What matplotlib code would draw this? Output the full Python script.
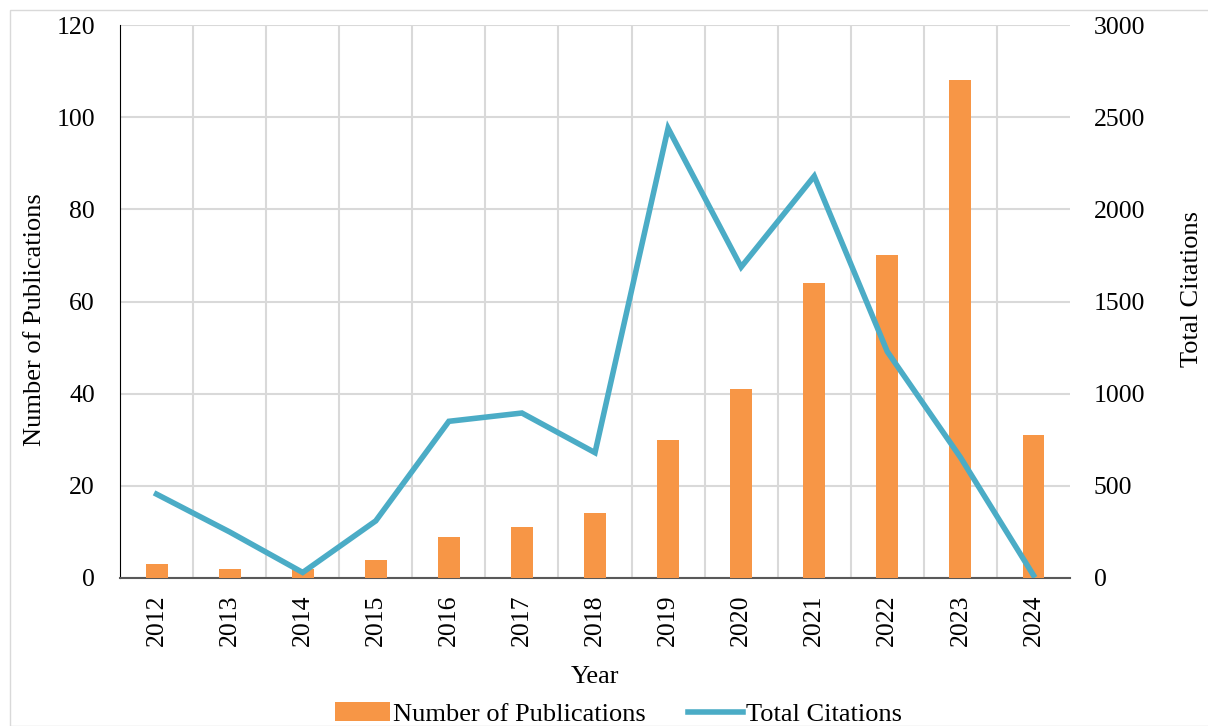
import matplotlib.pyplot as plt
from matplotlib.patches import Rectangle

years = ['2012', '2013', '2014', '2015', '2016', '2017', '2018',
         '2019', '2020', '2021', '2022', '2023', '2024']
publications = [3, 2, 2, 4, 9, 11, 14, 30, 41, 64, 70, 108, 31]
citations = [455, 250, 30, 310, 850, 895, 680, 2440, 1687, 2180, 1228, 655, 15]

plt.rcParams['font.family'] = ['Liberation Serif', 'DejaVu Serif']

fig = plt.figure(figsize=(12.08, 7.26), dpi=100)
fig.patches.append(Rectangle((10 / 1208, 0), 1.0, 1 - 10 / 726, transform=fig.transFigure,
                             fill=False, edgecolor='#d9d9d9', linewidth=1))
ax = fig.add_axes([120 / 1208, 1 - 578 / 726, 950 / 1208, 553 / 726])
ax2 = ax.twinx()

x = range(len(years))
bars = ax.bar(x, publications, width=0.3, color='#f79646', zorder=3, label='Number of Publications')
line, = ax2.plot(x, citations, color='#4bacc6', linewidth=4, solid_joinstyle='miter',
                 label='Total Citations', zorder=4)

ax.set_xlim(-0.5, len(years) - 0.5)
ax.set_ylim(0, 120)
ax2.set_ylim(0, 3000)
ax.set_yticks(range(0, 121, 20))
ax2.set_yticks(range(0, 3001, 500))
ax.set_xticks(list(x))
ax.set_xticklabels(years, rotation=90)

ax.set_xticks([i + 0.5 for i in x][:-1], minor=True)
ax.grid(True, which='minor', axis='x', color='#d9d9d9', linewidth=1.5, zorder=0)
ax.grid(True, which='major', axis='y', color='#d9d9d9', linewidth=1.5, zorder=0)
ax.tick_params(axis='x', which='both', length=0, labelsize=18.5, pad=12)
ax.tick_params(axis='y', length=0, labelsize=18.5, pad=18)
ax2.tick_params(axis='y', length=0, labelsize=18.5, pad=17)

for a in (ax, ax2):
    for s in a.spines.values():
        s.set_visible(False)
ax.spines['left'].set_visible(True)
ax.spines['left'].set_color('black')
ax.spines['bottom'].set_visible(True)
ax.spines['bottom'].set_color('#595959')
ax.spines['bottom'].set_linewidth(1.5)

ax.set_xlabel('Year', fontsize=19, labelpad=14)
ax.set_ylabel('Number of Publications', fontsize=19)
ax2.set_ylabel('Total Citations', fontsize=19)
ax.yaxis.set_label_coords(-0.078, 0.467)
ax2.yaxis.set_label_coords(1.117, 0.522)

fig.legend([bars, line], ['Number of Publications', 'Total Citations'],
           loc='center', bbox_to_anchor=(0.512, 1 - 714 / 726), ncol=2, frameon=False,
           fontsize=19, handlelength=2.1, handletextpad=0.1, columnspacing=1.6)

fig.savefig('out.png', dpi=100)
